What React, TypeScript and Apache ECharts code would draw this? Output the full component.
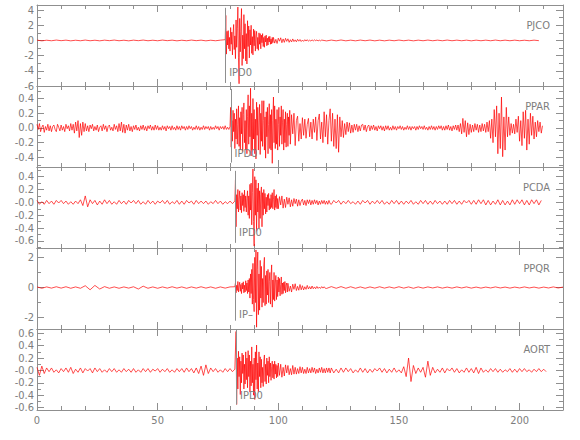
import React, { useEffect, useRef } from "react";
import * as echarts from "echarts";

// ---------- axis data ----------
const X_MIN = 0;
const X_MAX = 218;
const X_MAJOR = [0, 50, 100, 150, 200];
const X_MINOR = [10, 20, 30, 40, 60, 70, 80, 90, 110, 120, 130, 140, 160, 170, 180, 190, 210];

const STATIONS = ["PJCO", "PPAR", "PCDA", "PPQR", "AORT"];
const Y_MIN = [-6, -0.53, -0.71, -2.75, -0.64];
const Y_MAX = [4.67, 0.57, 0.55, 2.62, 0.67];
const Y_MAJOR = [
  [-6, -4, -2, 0, 2, 4],
  [-0.4, -0.2, 0, 0.2, 0.4],
  [-0.6, -0.4, -0.2, 0, 0.2, 0.4],
  [-2, 0, 2],
  [-0.6, -0.4, -0.2, 0, 0.2, 0.4, 0.6],
];
const Y_LABELS = [
  ["-6", "-4", "-2", "0", "2", "4"],
  ["-0.4", "-0.2", "0.0", "0.2", "0.4"],
  ["-0.6", "-0.4", "-0.2", "-0.0", "0.2", "0.4"],
  ["-2", "0", "2"],
  ["-0.6", "-0.4", "-0.2", "-0.0", "0.2", "0.4", "0.6"],
];
const Y_MINOR = [
  [-5, -3, -1, 1, 3],
  [-0.5, -0.3, -0.1, 0.1, 0.3, 0.5],
  [-0.7, -0.5, -0.3, -0.1, 0.1, 0.3, 0.5],
  [-1, 1],
  [-0.5, -0.3, -0.1, 0.1, 0.3, 0.5],
];

// ---------- picks ----------
const PICK_T = [78.2, 80.4, 82.3, 82.3, 82.7];
const PICK_TOP = [4.3, 0.53, 0.49, 2.62, 0.66];
const PICK_BOTTOM = [-5.6, -0.47, -0.63, -2.2, -0.55];
const PICK_LABEL_Y = [-4.27, -0.34, -0.47, -1.78, -0.41];
const PICK_LABELS = ["IPD0", "IPD0", "IPD0", "IP\u2013", "IPD0"];

// ---------- waveforms (segments: start time, sample step, values) ----------
const PJCO_PRE = [0.04, -0.05, 0.03, -0.04, 0.05, -0.03, 0.04, -0.05, 0.03, -0.04, 0.05, -0.04, 0.03, -0.05, 0.04, -0.03, 0.05, -0.04, 0.03, -0.05, 0.04, -0.03, 0.05, -0.04, 0.03, -0.04, 0.05, -0.03, 0.04, -0.05, 0.03, -0.04, 0.05, -0.03, 0.04, -0.05, 0.03, -0.04, 0.04];
const PJCO_EVENT = [
  0.1, 3.3, -1.8, 1.2, -0.6, 1.3, -1.1, 0.4, -1.4, 1.7,
  -0.5, 1.1, -1.9, 0.8, 2.1, -1.2, 0.6, -2.4, 2.7, -0.9,
  1.6, 4.4, -2.2, -5.7, 2.9, -1.5, 1.2, 4.2, -3.3, 0.7,
  -2.4, 3.4, -1.1, 2.2, -2.7, 0.9, -3.1, 2.6, -0.8, 1.9,
  -2.3, 1.4, -0.6, 2.0, -1.7, 0.5, -1.9, 1.5, -0.7, 1.3,
  -1.4, 0.6, 1.2, -1.1, 0.4, -1.3, 1.0, -0.5, 0.9, -1.1,
  0.7, -0.3, 0.9, -0.8, 0.4, -0.9, 0.6, -0.2, 0.7, -0.7,
  0.3, -0.6, 0.5, -0.2, 0.55, -0.5, 0.2, -0.45, 0.4, -0.3,
];
const PJCO_TAIL = [
  0.4, -0.35, 0.15, -0.4, 0.3, -0.1, 0.35, -0.3, 0.2, -0.25,
  0.28, -0.12, 0.22, -0.25, 0.1, -0.2, 0.2, -0.15, 0.08, -0.18,
  0.15, -0.1, 0.12, -0.14, 0.05, -0.12, 0.1, -0.08, 0.1, -0.1,
  0.04, -0.08, 0.08, -0.06, 0.07, -0.03, 0.06, -0.06, 0.04, -0.05,
];
const PJCO_CODA = [
  0.05, -0.06, 0.05, -0.05, 0.06, -0.05, 0.04, -0.05, 0.05, -0.04,
  0.05, -0.05, 0.04, -0.05, 0.04, -0.04, 0.05, -0.04, 0.04, -0.05,
  0.04, -0.04, 0.05, -0.04, 0.04, -0.04, 0.05, -0.04, 0.04, -0.04,
  0.04, -0.05, 0.04, -0.04, 0.04, -0.04, 0.05, -0.04, 0.04, -0.04,
  0.04, -0.04, 0.03, -0.04, 0.04, -0.03,
];

const PPAR_PRE = [
  0.05, -0.02, 0.06, -0.05, 0.01, 0.04, -0.06, 0.02, -0.03, 0.05,
  -0.04, 0.03, -0.05, 0.02, 0.04, -0.02, -0.05, 0.05, 0.01, -0.04,
  0.04, -0.03, 0.02, -0.05, 0.05, -0.01, 0.03, -0.04, 0.06, -0.03,
  0.05, -0.07, 0.08, -0.04, 0.1, -0.13, 0.06, -0.1, 0.08, -0.05,
  0.06, -0.04, 0.03, -0.05, 0.04, -0.01, 0.05, -0.04, 0.02, -0.03,
  0.04, -0.05, 0.01, 0.03, -0.04, 0.05, -0.02, 0.03, -0.05, 0.02,
  0.04, -0.03, 0.01, -0.04, 0.05, -0.02, 0.03, -0.05, 0.06, -0.04,
  0.08, -0.06, 0.05, -0.07, 0.04, -0.03, 0.05, -0.04, 0.02, -0.05,
  0.03, -0.02, 0.04, -0.03, 0.01, -0.04, 0.03, -0.02, 0.04, -0.03,
  0.02, -0.04, 0.03, -0.01, 0.04, -0.03, 0.02, -0.03, 0.04, -0.02,
  0.03, -0.03, 0.01, -0.03, 0.03, -0.02, 0.02, -0.04, 0.03, -0.01,
  0.02, -0.03, 0.03, -0.02, 0.01, -0.03, 0.03, -0.02, 0.02, -0.03,
  0.03, -0.01, 0.02, -0.03, 0.02, -0.02, 0.03, -0.01, 0.02, -0.03,
  0.01, -0.02, 0.03, -0.02, 0.02, -0.03, 0.01, -0.02, 0.03, -0.02,
  0.02, -0.01, 0.02, -0.03, 0.02, -0.02, 0.01, -0.02, 0.03, -0.01,
  0.02, -0.03, 0.02, -0.01, 0.02, -0.02, 0.03, -0.02, 0.01, -0.02,
];
const PPAR_EVENT = [
  0.02, 0.28, -0.26, 0.1, -0.18, 0.24, -0.05, 0.2, -0.28, 0.12,
  -0.15, 0.26, -0.22, 0.05, 0.3, -0.25, 0.14, -0.3, 0.22, -0.08,
  0.28, -0.32, 0.18, 0.34, -0.2, 0.1, -0.3, 0.25, -0.35, 0.16,
  0.45, -0.22, 0.3, -0.12, 0.54, -0.38, 0.2, -0.3, 0.4, -0.15,
  0.25, -0.35, 0.12, -0.42, 0.35, -0.1, 0.28, -0.3, 0.08, 0.32,
  -0.36, 0.2, -0.18, 0.37, -0.25, 0.1, 0.37, -0.3, 0.15, -0.41,
  0.22, -0.12, 0.28, -0.35, 0.05, 0.33, -0.28, 0.18, -0.3, 0.25,
  -0.48, 0.1, 0.42, -0.2, 0.3, -0.28, 0.12, -0.22, 0.25, -0.3,
  0.05, 0.28, -0.25, 0.15, -0.1, 0.3, -0.22, 0.08, 0.25, -0.3,
  0.12, -0.2, 0.22, -0.26, 0.05, 0.2, -0.25, 0.15, -0.1, 0.24,
];
const PPAR_TAIL = [
  -0.22, 0.18, -0.08, 0.2, -0.24, 0.1, 0.16, -0.18, 0.06, -0.15,
  0.14, -0.1, 0.12, -0.14, 0.05, 0.13, -0.12, 0.08, -0.15, 0.12,
  -0.06, 0.15, -0.17, 0.1, 0.19, -0.15, 0.08, -0.2, 0.22, -0.12,
  0.18, -0.22, 0.1, 0.26, -0.18, 0.2, -0.25, 0.12, -0.28, 0.18,
  -0.33, 0.15, -0.12, 0.1, -0.13, 0.06, -0.09, 0.08, -0.05, 0.07,
  -0.07, 0.04, -0.06, 0.05, -0.03, 0.05, -0.05, 0.03, -0.04, 0.04,
];
const PPAR_POST = [
  0.05, -0.03, 0.04, -0.05, 0.02, 0.04, -0.04, 0.03, -0.02, 0.04,
  -0.03, 0.02, -0.04, 0.03, -0.01, 0.03, -0.03, 0.02, -0.04, 0.03,
  -0.02, 0.03, -0.03, 0.01, -0.03, 0.03, -0.02, 0.02, -0.03, 0.02,
  -0.01, 0.03, -0.02, 0.02, -0.03, 0.01, -0.02, 0.03, -0.02, 0.02,
  -0.03, 0.02, -0.01, 0.02, -0.03, 0.02, -0.02, 0.03, -0.01, 0.02,
  -0.02, 0.03, -0.02, 0.01, -0.03, 0.02, -0.02, 0.03, -0.02, 0.02,
  -0.03, 0.02, -0.02, 0.03, -0.01, 0.03, -0.03, 0.02, -0.03, 0.03,
  -0.02, 0.04, -0.03, 0.02, -0.04, 0.03, -0.02, 0.04, -0.03, 0.04,
  -0.05, 0.06, -0.08, 0.13, -0.06, 0.1, -0.12, 0.07, -0.09, 0.05,
  -0.06, 0.04, -0.05, 0.06, -0.03, 0.05, -0.06, 0.04, -0.05, 0.06,
  -0.04, 0.05,
];
const PPAR_BURST = [
  -0.06, 0.08, -0.05, 0.1, -0.14, 0.12, -0.2, 0.25, -0.12, 0.3,
  -0.35, 0.2, -0.28, 0.42, -0.39, 0.15, -0.3, 0.28, -0.12, 0.15,
  -0.1, 0.06, -0.07, 0.05, -0.08, 0.12, -0.06, 0.16, -0.18, 0.1,
  -0.24, 0.22, -0.14, 0.24, -0.3, 0.12, -0.22, 0.2, -0.1, 0.16,
  -0.15, 0.08, -0.12, 0.1, -0.05, 0.08, -0.07, 0.03,
];

const PCDA_PRE = [
  0.03, -0.03, 0.01, -0.03, 0.03, -0.02, 0.02, -0.03, 0.03, -0.01,
  0.03, -0.02, 0.02, -0.03, 0.01, -0.03, 0.02, -0.02, 0.04, -0.05,
  0.1, -0.07, 0.04, -0.02, 0.03, -0.04, 0.02, -0.03, 0.04, -0.02,
  0.03, -0.03, 0.01, -0.03, 0.03, -0.02, 0.02, -0.03, 0.03, -0.01,
  0.03, -0.02, 0.03, -0.03, 0.01, -0.03, 0.03, -0.02, 0.02, -0.03,
  0.02, -0.01, 0.03, -0.02, 0.03, -0.03, 0.01, -0.02, 0.03, -0.03,
  0.02, -0.03, 0.03, -0.01, 0.02, -0.03, 0.03, -0.02, 0.02, -0.02,
  0.02, -0.03, 0.01, -0.02, 0.03, -0.02, 0.02, -0.03, 0.01, -0.02,
  0.02, -0.02,
];
const PCDA_EVENT = [
  0.02, 0.35, -0.38, 0.12, -0.1, 0.2, -0.15, 0.05, 0.18, -0.12,
  0.1, -0.16, 0.15, -0.05, 0.12, -0.14, 0.19, -0.08, 0.1, -0.15,
  0.06, 0.18, -0.2, 0.1, -0.25, 0.28, -0.12, 0.3, -0.35, 0.15,
  0.52, -0.3, -0.68, 0.4, -0.2, 0.35, -0.45, 0.22, -0.15, 0.3,
  -0.4, 0.18, -0.25, 0.12, 0.24, -0.38, 0.15, -0.2, 0.2, -0.1,
  0.14, -0.18, 0.08, -0.15, 0.12, -0.05, 0.14, -0.12, 0.06, -0.1,
  0.12, -0.08, 0.15, -0.1, 0.05, 0.2, -0.12, 0.1, -0.08, 0.12,
  -0.1, 0.06,
];
const PCDA_TAIL = [
  -0.1, 0.09, -0.04, 0.1, -0.09, 0.05, -0.08, 0.08, -0.03, 0.07,
  -0.07, 0.04, -0.06, 0.06, -0.02, 0.05, -0.06, 0.04, -0.05, 0.02,
  0.05, -0.04, 0.03, -0.05, 0.04, -0.02, 0.04, -0.04, 0.03, -0.03,
  0.04, -0.02, 0.03, -0.04, 0.02, -0.03, 0.03, -0.02, 0.03, -0.03,
  0.02, -0.03, 0.03, -0.02,
];
const PCDA_POST = [
  -0.03, 0.03, -0.01, 0.03, -0.03, 0.02, -0.02, 0.03, -0.02, 0.01,
  -0.03, 0.02, -0.03, 0.03, -0.01, 0.03, -0.03, 0.02, -0.02, 0.03,
  -0.02, 0.03, -0.03, 0.01, -0.03, 0.03, -0.02, 0.03, -0.03, 0.02,
  -0.03, 0.02, -0.02, 0.03, -0.03, 0.01, -0.03, 0.03, -0.02, 0.03,
  -0.03, 0.02, -0.03, 0.03, -0.02, 0.02, -0.03, 0.02, -0.03, 0.03,
  -0.02, 0.03, -0.03, 0.02, -0.03, 0.03, -0.01, 0.03, -0.03, 0.03,
  -0.03, 0.04, -0.02, 0.04, -0.04, 0.03, -0.04, 0.02, -0.03, 0.04,
  -0.04, 0.03, -0.04, 0.02, -0.04, 0.04, -0.03, 0.04, -0.02, 0.04,
  -0.04, 0.03, -0.04, 0.04, -0.02, 0.04, -0.04, 0.03,
];

const PPQR_PRE = [
  0.04, -0.05, 0.04, -0.04, 0.05, -0.04, 0.05, -0.05, 0.04, -0.05,
  0.12, -0.15, 0.14, -0.1, 0.06, -0.05, 0.04, -0.05, 0.04, -0.04,
  0.05, -0.1, 0.09, -0.05, 0.04, -0.05, 0.04, -0.04, 0.05, -0.04,
  0.04, -0.05, 0.04, -0.04, 0.05, -0.04, 0.04, -0.05, 0.04, -0.04,
  0.04,
];
const PPQR_EVENT = [
  0.05, 0.3, -0.35, 0.15, -0.2, 0.4, -0.3, 0.1, 0.35, -0.25,
  0.2, -0.4, 0.3, -0.1, 0.38, -0.35, 0.15, -0.3, 0.45, -0.2,
  0.3, -0.4, 0.5, -0.3, 0.6, -0.7, 0.9, -0.4, 1.2, -1.1,
  1.6, -0.8, -1.6, 2.0, -1.0, 2.49, -2.63, 1.2, 2.35, -1.8,
  0.9, -1.5, 1.8, -0.7, 1.4, -1.3, 0.6, -1.0, 1.5, 2.0,
  -1.2, 0.8, -1.1, 1.1, -0.5, 1.2, -1.0, 0.4, 1.0, -1.1,
  0.7, 1.5, -1.3, 0.5, -0.8, 1.0, -0.9, 0.3, 0.8, -0.8,
  0.5, -0.6, 0.7, -0.3, 0.6, -0.55, 0.2, 0.7, -0.45, 0.3,
  -0.4, 0.35, -0.2, 0.4, -0.35, 0.15, 0.3, -0.3,
];
const PPQR_TAIL = [
  0.28, -0.25, 0.1, -0.3, 0.22, -0.12, 0.25, -0.2, 0.08, -0.18,
  0.2, -0.15, 0.12, -0.16, 0.05, -0.12, 0.14, -0.1, 0.06, -0.1,
  0.1, -0.08, 0.04, -0.08, 0.07, -0.06, 0.03, -0.06, 0.06, -0.04,
  0.05, -0.05,
];
const PPQR_POST = [
  -0.06, 0.06, -0.05, 0.06, -0.05, 0.05, -0.05, 0.04, -0.05, 0.04,
  -0.04, 0.05, -0.04, 0.04, -0.04, 0.05, -0.04, 0.04, -0.05, 0.04,
  -0.04, 0.04, -0.03, 0.04, -0.04, 0.03, -0.04, 0.04, -0.03, 0.04,
  -0.04, 0.03, -0.04, 0.03, -0.03, 0.04, -0.03, 0.03, -0.04, 0.03,
  -0.03, 0.04, -0.03, 0.03, -0.04, 0.03, -0.03, 0.04, -0.03, 0.03,
];

const AORT_PRE = [
  0.05, -0.08, 0.07, -0.05, 0.04, -0.02, 0.04, -0.03, 0.01, -0.04,
  0.03, -0.02, 0.04, -0.03, 0.05, -0.05, 0.02, -0.03, 0.04, -0.04,
  0.03, -0.01, 0.03, -0.04, 0.04, -0.02, 0.03, -0.03, 0.01, -0.03,
  0.03, -0.02, 0.03, -0.03, 0.01, -0.03, 0.03, -0.02, 0.02, -0.03,
  0.03, -0.03, 0.01, -0.03, 0.03, -0.02, 0.03, -0.03, 0.02, -0.01,
  0.03, -0.03, 0.02, -0.02, 0.03, -0.03, 0.01, -0.03, 0.03, -0.02,
  0.03, -0.03, 0.04, -0.02, 0.03, -0.04, 0.04, -0.05, 0.07, -0.08,
  0.09, -0.05, 0.04, -0.02, 0.03, -0.03, 0.01, -0.03, 0.03, -0.02,
  0.03, -0.02, 0.02,
];
const AORT_EVENT = [
  0.63, -0.55, 0.2, -0.3, 0.31, -0.1, 0.22, -0.39, 0.15, -0.2,
  0.28, -0.05, 0.25, -0.3, 0.1, -0.22, 0.3, -0.15, 0.2, -0.28,
  0.32, -0.1, 0.25, -0.35, 0.15, -0.25, 0.38, -0.2, 0.1, -0.4,
  0.2, -0.47, 0.3, -0.15, 0.41, -0.3, 0.12, -0.35, 0.3, -0.1,
  0.22, -0.28, 0.18, -0.2, 0.05, -0.26, 0.15, 0.25, -0.18, 0.1,
  -0.22, 0.2, -0.08, 0.15, -0.2, 0.22, -0.1, 0.12, -0.16, 0.06,
  0.15, -0.12, 0.1, -0.14, 0.15, -0.06, 0.1, -0.12, 0.08, -0.1,
];
const AORT_TAIL = [
  0.12, -0.08, 0.1, -0.11, 0.05, -0.09, 0.09, -0.04, 0.08, -0.07,
  0.03, -0.07, 0.08, -0.06, 0.05, -0.06, 0.03, -0.05, 0.06, -0.04,
  0.05, -0.05, 0.02, -0.05, 0.05, -0.04, 0.03, -0.04, 0.05, -0.03,
  0.04, -0.05, 0.02, -0.04, 0.04, -0.03, 0.05, -0.04, 0.03, -0.04,
  0.04, -0.03, 0.04, -0.04,
];
const AORT_POST = [
  0.04, -0.04, 0.02, -0.04, 0.04, -0.03, 0.04, -0.02, 0.03, -0.04,
  0.01, -0.03, 0.04, -0.03, 0.03, -0.04, 0.02, -0.03, 0.03, -0.01,
  0.04, -0.03, 0.03, -0.04, 0.02, -0.03, 0.04, -0.03, 0.01, -0.04,
  0.06, -0.1, 0.2, -0.18, 0.08, -0.05, 0.04, -0.03, 0.05, -0.11,
  0.15, -0.08, 0.05, -0.04, 0.02, -0.03, 0.04, -0.04, 0.03, -0.01,
  0.04, -0.03, 0.03, -0.04, 0.01, -0.03, 0.04, -0.03, 0.03, -0.04,
  0.05, -0.05, 0.04, -0.03, 0.01, -0.03, 0.03, -0.02, 0.03, -0.03,
  0.02, -0.03, 0.01, -0.02, 0.03, -0.03, 0.02, -0.03, 0.03, -0.02,
  0.03, -0.02, 0.01, -0.03, 0.02, -0.02, 0.03, -0.02, 0.02, -0.02,
];

function seg(start: number, step: number, values: number[]): [number, number][] {
  return values.map((v, i) => [Math.round((start + i * step) * 1000) / 1000, v]);
}

const TRACES: [number, number][][] = [
  [...seg(0, 2, PJCO_PRE), ...seg(78, 0.25, PJCO_EVENT), ...seg(98, 0.5, PJCO_TAIL), ...seg(118, 2, PJCO_CODA)],
  [...seg(0, 0.5, PPAR_PRE), ...seg(80, 0.25, PPAR_EVENT), ...seg(105, 0.5, PPAR_TAIL), ...seg(135, 0.5, PPAR_POST), ...seg(186, 0.5, PPAR_BURST)],
  [...seg(0, 1, PCDA_PRE), ...seg(82, 0.25, PCDA_EVENT), ...seg(100, 0.5, PCDA_TAIL), ...seg(122, 1, PCDA_POST)],
  [...seg(0, 2, PPQR_PRE), ...seg(82, 0.25, PPQR_EVENT), ...seg(104, 0.5, PPQR_TAIL), ...seg(120, 2, PPQR_POST)],
  [...seg(0, 1, AORT_PRE), ...seg(82.5, 0.25, AORT_EVENT), ...seg(100, 0.5, AORT_TAIL), ...seg(122, 1, AORT_POST)],
];

// ---------- style / layout ----------
const AXIS_COLOR = "#8f8f8f";
const TEXT_COLOR = "#7d7d7d";
const FONT = "'DejaVu Sans Condensed', 'Liberation Sans Narrow', sans-serif";
const W = 580;
const H = 440;
const LEFT = 37;
const RIGHT = 17;
const TOP = 5;
const PANEL_H = 81;
const MAJOR_LEN = 7;
const MINOR_LEN = 4;

function buildOption() {
  const grid: any[] = [];
  const xAxis: any[] = [];
  const yAxis: any[] = [];
  const graphic: any[] = [];

  STATIONS.forEach((name, p) => {
    grid.push({ left: LEFT, right: RIGHT, top: TOP + p * PANEL_H, height: PANEL_H, containLabel: false, outerBoundsMode: "none" });

    const xa = (position: string, ticks: number[], len: number, line: boolean, label: boolean) => ({
      type: "value",
      gridIndex: p,
      position,
      min: X_MIN,
      max: X_MAX,
      axisLine: { show: line, onZero: false, lineStyle: { color: AXIS_COLOR, width: 1 } },
      axisTick: { show: true, inside: true, length: len, customValues: ticks, lineStyle: { color: AXIS_COLOR, width: 1 } },
      axisLabel: label
        ? { show: true, customValues: X_MAJOR, color: TEXT_COLOR, fontSize: 11, fontFamily: FONT, margin: 5, formatter: (v: number) => String(v) }
        : { show: false },
      splitLine: { show: false },
    });
    xAxis.push(xa("bottom", X_MAJOR, MAJOR_LEN, true, p === STATIONS.length - 1));
    xAxis.push(xa("bottom", X_MINOR, MINOR_LEN, false, false));
    xAxis.push(xa("top", X_MAJOR, MAJOR_LEN, true, false));
    xAxis.push(xa("top", X_MINOR, MINOR_LEN, false, false));

    const ya = (position: string, ticks: number[], len: number, line: boolean, label: boolean) => ({
      type: "value",
      gridIndex: p,
      position,
      min: Y_MIN[p],
      max: Y_MAX[p],
      axisLine: { show: line, onZero: false, lineStyle: { color: AXIS_COLOR, width: 1 } },
      axisTick: { show: true, inside: true, length: len, customValues: ticks, lineStyle: { color: AXIS_COLOR, width: 1 } },
      axisLabel: label
        ? {
            show: true,
            customValues: Y_MAJOR[p],
            color: TEXT_COLOR,
            fontSize: 11,
            fontFamily: FONT,
            margin: 3,
            formatter: (v: number) => {
              const i = Y_MAJOR[p].findIndex((t) => Math.abs(t - v) < 1e-9);
              return i >= 0 ? Y_LABELS[p][i] : "";
            },
          }
        : { show: false },
      splitLine: { show: false },
    });
    yAxis.push(ya("left", Y_MAJOR[p], MAJOR_LEN, true, true));
    yAxis.push(ya("left", Y_MINOR[p], MINOR_LEN, false, false));
    yAxis.push(ya("right", Y_MAJOR[p], MAJOR_LEN, true, false));
    yAxis.push(ya("right", Y_MINOR[p], MINOR_LEN, false, false));

    graphic.push({
      type: "text",
      x: W - 30,
      y: TOP + p * PANEL_H + 20,
      silent: true,
      style: { text: name, fill: TEXT_COLOR, font: `11px ${FONT}`, align: "right", verticalAlign: "middle" },
    });
  });

  const series = TRACES.map((data, p) => ({
    type: "line",
    xAxisIndex: 4 * p,
    yAxisIndex: 4 * p,
    data,
    symbol: "none",
    showSymbol: false,
    silent: true,
    lineStyle: { color: "#ff0000", width: 0.7 },
    markLine: {
      silent: true,
      symbol: ["none", "none"],
      label: { show: false },
      lineStyle: { color: AXIS_COLOR, width: 1, type: "solid" },
      data: [[{ coord: [PICK_T[p], PICK_TOP[p]] }, { coord: [PICK_T[p], PICK_BOTTOM[p]] }]],
    },
    markPoint: {
      silent: true,
      data: [
        {
          coord: [PICK_T[p], PICK_LABEL_Y[p]],
          symbol: "rect",
          symbolSize: 1,
          itemStyle: { color: "rgba(0,0,0,0)" },
          label: { show: true, position: "right", distance: 3, formatter: PICK_LABELS[p], color: TEXT_COLOR, fontSize: 11, fontFamily: FONT },
        },
      ],
    },
  }));

  return { animation: false, backgroundColor: "#ffffff", grid, xAxis, yAxis, series, graphic };
}

export default function App() {
  const ref = useRef<HTMLDivElement>(null);
  useEffect(() => {
    document.body.style.margin = "0";
    if (!ref.current) return;
    const chart = echarts.init(ref.current, undefined, { renderer: "svg" });
    chart.setOption(buildOption() as any);
    return () => chart.dispose();
  }, []);
  return <div ref={ref} style={{ width: W, height: H }} />;
}
